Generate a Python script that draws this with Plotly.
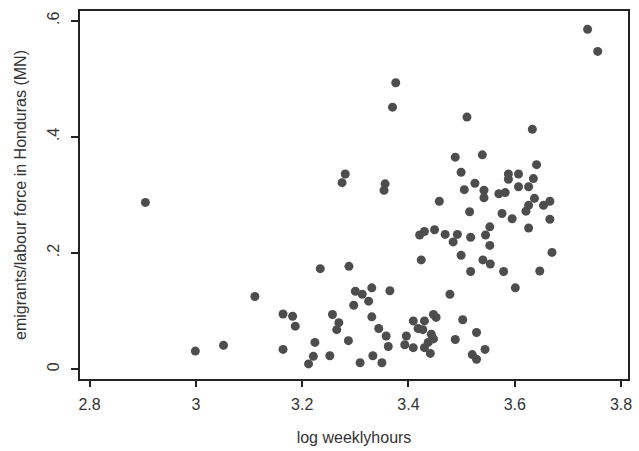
import plotly.graph_objects as go

# log weekly hours (x) and emigrants/labour force (y)
log_hours = [
    3.737, 3.756, 3.376, 3.370, 3.510, 3.633,
    3.488, 3.539, 3.641, 3.499, 3.588, 3.607, 3.588, 3.635, 3.525, 3.505,
    3.542, 3.542, 3.570, 3.582, 3.607, 3.626, 3.637, 3.626, 3.621, 3.654,
    3.666, 3.458, 3.515, 3.576, 3.595, 3.666, 3.626, 3.421, 3.430, 3.449,
    3.469, 3.492, 3.484, 3.517, 3.553, 3.545, 3.553, 3.424, 3.499, 3.540,
    3.554, 3.517, 3.579, 3.647, 3.670,
    3.281, 3.275, 3.356, 3.354, 3.234, 3.288,
    2.905,
    3.111, 3.164, 3.182, 3.187, 3.257, 3.269, 3.265, 3.300, 3.313, 3.297,
    2.999, 3.052, 3.164, 3.224, 3.221, 3.212, 3.252, 3.287, 3.309,
    3.331, 3.365, 3.325, 3.478, 3.331, 3.344, 3.358, 3.362, 3.333, 3.350,
    3.409, 3.430, 3.447, 3.396, 3.393, 3.409, 3.427, 3.443, 3.437, 3.430,
    3.441, 3.502, 3.488, 3.528, 3.544, 3.520, 3.528, 3.601,
    3.418, 3.452, 3.447,
]
emig_share = [
    0.585, 0.547, 0.493, 0.451, 0.434, 0.413,
    0.365, 0.369, 0.352, 0.339, 0.336, 0.336, 0.327, 0.328, 0.320, 0.309,
    0.308, 0.295, 0.302, 0.304, 0.314, 0.314, 0.294, 0.282, 0.272, 0.282,
    0.289, 0.289, 0.271, 0.268, 0.259, 0.258, 0.243, 0.231, 0.237, 0.240,
    0.232, 0.232, 0.219, 0.227, 0.245, 0.231, 0.213, 0.188, 0.196, 0.188,
    0.181, 0.168, 0.168, 0.169, 0.201,
    0.336, 0.321, 0.319, 0.308, 0.173, 0.177,
    0.287,
    0.125, 0.095, 0.091, 0.074, 0.094, 0.080, 0.068, 0.134, 0.129, 0.110,
    0.031, 0.041, 0.034, 0.046, 0.022, 0.009, 0.023, 0.049, 0.011,
    0.140, 0.135, 0.117, 0.129, 0.090, 0.070, 0.057, 0.039, 0.023, 0.011,
    0.083, 0.083, 0.094, 0.057, 0.042, 0.037, 0.068, 0.060, 0.046, 0.037,
    0.027, 0.085, 0.051, 0.063, 0.034, 0.025, 0.017, 0.140,
    0.070, 0.089, 0.052,
]

x_ticks = [2.8, 3.0, 3.2, 3.4, 3.6, 3.8]
x_ticktext = ["2.8", "3", "3.2", "3.4", "3.6", "3.8"]
y_ticks = [0, 0.2, 0.4, 0.6]
y_ticktext = ["0", ".2", ".4", ".6"]

fig = go.Figure(
    go.Scatter(
        x=log_hours,
        y=emig_share,
        mode="markers",
        marker=dict(color="#4d4d4d", size=9, symbol="circle", line=dict(width=0)),
        hoverinfo="x+y",
    )
)

font_family = "Liberation Sans, Arial, sans-serif"
fig.update_layout(
    width=639,
    height=451,
    margin=dict(l=80, r=7, t=11, b=69),
    paper_bgcolor="white",
    plot_bgcolor="white",
    showlegend=False,
    font=dict(family=font_family, size=16, color="#333333"),
)
fig.update_xaxes(
    range=[2.782, 3.813],
    tickvals=x_ticks,
    ticktext=x_ticktext,
    ticks="outside",
    ticklen=6,
    tickwidth=1.5,
    tickcolor="#222222",
    ticklabelstandoff=4,
    showgrid=False,
    zeroline=False,
    showline=True,
    mirror=True,
    linecolor="#222222",
    linewidth=2,
    tickfont=dict(size=16, color="#333333"),
    title=dict(text="log weeklyhours", font=dict(size=16, color="#333333"), standoff=20),
)
fig.update_yaxes(
    range=[-0.017, 0.6166],
    tickvals=y_ticks,
    ticktext=y_ticktext,
    tickangle=-90,
    ticks="outside",
    ticklen=7,
    tickwidth=1.5,
    tickcolor="#222222",
    ticklabelstandoff=6,
    showgrid=False,
    zeroline=False,
    showline=True,
    mirror=True,
    linecolor="#222222",
    linewidth=2,
    tickfont=dict(size=16, color="#333333"),
    title=dict(text="emigrants/labour force in Honduras (MN)",
               font=dict(size=16, color="#333333"), standoff=14),
)

fig.write_html("out.html")
